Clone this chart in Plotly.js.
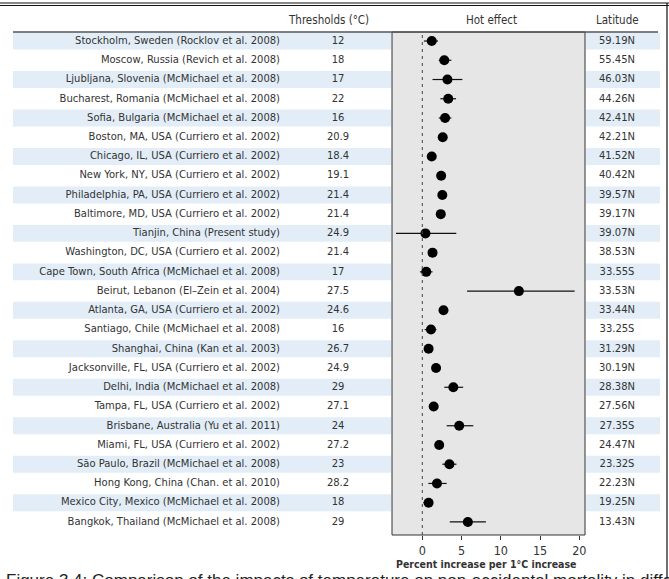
<!DOCTYPE html>
<html>
<head>
<meta charset="utf-8">
<script src="https://cdn.plot.ly/plotly-3.0.1.min.js"></script>
<style>html,body{margin:0;padding:0;background:#fff;}#chart{width:669px;height:579px;}</style>
</head>
<body>
<div id="chart"></div>
<script>
const cities = [
  "Stockholm, Sweden (Rocklov et al. 2008)",
  "Moscow, Russia (Revich et al. 2008)",
  "Ljubljana, Slovenia (McMichael et al. 2008)",
  "Bucharest, Romania (McMichael et al. 2008)",
  "Sofia, Bulgaria (McMichael et al. 2008)",
  "Boston, MA, USA (Curriero et al. 2002)",
  "Chicago, IL, USA (Curriero et al. 2002)",
  "New York, NY, USA (Curriero et al. 2002)",
  "Philadelphia, PA, USA (Curriero et al. 2002)",
  "Baltimore, MD, USA (Curriero et al. 2002)",
  "Tianjin, China (Present study)",
  "Washington, DC, USA (Curriero et al. 2002)",
  "Cape Town, South Africa (McMichael et al. 2008)",
  "Beirut, Lebanon (El\u2013Zein et al. 2004)",
  "Atlanta, GA, USA (Curriero et al. 2002)",
  "Santiago, Chile (McMichael et al. 2008)",
  "Shanghai, China (Kan et al. 2003)",
  "Jacksonville, FL, USA (Curriero et al. 2002)",
  "Delhi, India (McMichael et al. 2008)",
  "Tampa, FL, USA (Curriero et al. 2002)",
  "Brisbane, Australia (Yu et al. 2011)",
  "Miami, FL, USA (Curriero et al. 2002)",
  "S\u00e3o Paulo, Brazil (McMichael et al. 2008)",
  "Hong Kong, China (Chan. et al. 2010)",
  "Mexico City, Mexico (McMichael et al. 2008)",
  "Bangkok, Thailand (McMichael et al. 2008)"
];
const thresholds = ["12","18","17","22","16","20.9","18.4","19.1","21.4","21.4","24.9","21.4","17","27.5","24.6","16","26.7","24.9","29","27.1","24","27.2","23","28.2","18","29"];
const latitudes = ["59.19N","55.45N","46.03N","44.26N","42.41N","42.21N","41.52N","40.42N","39.57N","39.17N","39.07N","38.53N","33.55S","33.53N","33.44N","33.25S","31.29N","30.19N","28.38N","27.56N","27.35S","24.47N","23.32S","22.23N","19.25N","13.43N"];
const effect = [1.2,2.8,3.2,3.3,2.9,2.6,1.2,2.4,2.55,2.35,0.4,1.3,0.5,12.3,2.7,1.1,0.8,1.75,3.95,1.45,4.7,2.15,3.45,1.87,0.8,5.8];
const ciLow  = [0.2,2.1,1.3,2.3,2.1,2.3,1.0,2.2,2.3,2.1,-3.35,1.0,-0.3,5.7,2.4,0.3,0.5,1.5,2.8,1.2,3.1,1.9,2.55,0.77,0.13,3.5];
const ciHigh = [2.0,3.7,5.1,4.3,3.7,2.9,1.4,2.6,2.8,2.6,4.33,1.6,1.3,19.4,3.0,1.8,1.1,2.0,5.2,1.7,6.5,2.4,4.35,3.1,1.3,8.1];
const xTicks = [0,5,10,15,20];
const headers = ["Thresholds (\u00b0C)", "Hot effect", "Latitude"];
const xTitle = "Percent increase per 1\u00b0C increase";
const caption = "Figure 3.4: Comparison of the impacts of temperature on non-accidental mortality in different cities";

const W = 669, H = 579, T = 32, B = 535;
const FONT = "DejaVu Sans Condensed, Liberation Sans Narrow, sans-serif";
const py = p => (B - p) / (B - T);   // pixel row -> paper y
const txt = '#333333';
const FS = 11.1;

const shapes = [];
// row stripes
cities.forEach((c, i) => {
  if (i % 2 === 0) {
    shapes.push({type:'rect', xref:'x2', yref:'y', x0:13, x1:391, y0:i-0.44, y1:i+0.44, fillcolor:'#e2edf7', line:{width:0}, layer:'below'});
    shapes.push({type:'rect', xref:'x2', yref:'y', x0:586, x1:660, y0:i-0.44, y1:i+0.44, fillcolor:'#e2edf7', line:{width:0}, layer:'below'});
  }
});
// panel
shapes.push({type:'rect', xref:'x domain', yref:'y domain', x0:0, x1:1, y0:0, y1:1, fillcolor:'#e6e6e6', line:{color:'#333', width:1}, layer:'below'});
// zero line
shapes.push({type:'line', xref:'x', yref:'y domain', x0:0, x1:0, y0:0, y1:1, line:{color:'#444', width:1, dash:'3px,4px'}});
// header rule
shapes.push({type:'line', xref:'x2', yref:'paper', x0:13, x1:658, y0:1, y1:1, line:{color:'#555', width:1.5}});
// outer frame
shapes.push({type:'line', xref:'x2', yref:'paper', x0:0, x1:669, y0:py(3), y1:py(3), line:{color:'#111', width:1.2}});
shapes.push({type:'line', xref:'x2', yref:'paper', x0:0, x1:669, y0:py(5.5), y1:py(5.5), line:{color:'#111', width:1.2}});
shapes.push({type:'line', xref:'x2', yref:'paper', x0:667, x1:667, y0:py(3), y1:py(579), line:{color:'#111', width:1.2}});

const annotations = [
  {text:headers[0], xref:'x2', yref:'paper', x:328, y:py(20), xanchor:'center', yanchor:'middle', showarrow:false, font:{family:FONT, size:11.5, color:txt}},
  {text:headers[1], xref:'x2', yref:'paper', x:491, y:py(20), xanchor:'center', yanchor:'middle', showarrow:false, font:{family:FONT, size:11.5, color:txt}},
  {text:headers[2], xref:'x2', yref:'paper', x:617, y:py(20), xanchor:'center', yanchor:'middle', showarrow:false, font:{family:FONT, size:11.5, color:txt}},
  {text:'<b>'+xTitle+'</b>', xref:'x2', yref:'paper', x:486, y:py(564), xanchor:'center', yanchor:'middle', showarrow:false, font:{family:FONT, size:10.5, color:txt}},
  {text:caption, xref:'x2', yref:'paper', x:4, xanchor:'left', y:py(569), yanchor:'top', showarrow:false, font:{family:'Liberation Sans, Arial, sans-serif', size:17, color:'#222'}}
];

const traces = [
  {type:'scatter', mode:'text', xaxis:'x2', yaxis:'y', x:cities.map(()=>280), y:cities, text:cities, textposition:'middle left', textfont:{family:FONT, size:FS, color:txt}, cliponaxis:false, hoverinfo:'skip'},
  {type:'scatter', mode:'text', xaxis:'x2', yaxis:'y', x:cities.map(()=>338), y:cities, text:thresholds, textposition:'middle center', textfont:{family:FONT, size:FS, color:txt}, cliponaxis:false, hoverinfo:'skip'},
  {type:'scatter', mode:'text', xaxis:'x2', yaxis:'y', x:cities.map(()=>617), y:cities, text:latitudes, textposition:'middle center', textfont:{family:FONT, size:FS, color:txt}, cliponaxis:false, hoverinfo:'skip'},
  {type:'scatter', mode:'markers', xaxis:'x', yaxis:'y', x:effect, y:cities,
   marker:{symbol:'circle', size:10, color:'#000'},
   error_x:{type:'data', symmetric:false, array:effect.map((e,i)=>ciHigh[i]-e), arrayminus:effect.map((e,i)=>e-ciLow[i]), width:0, thickness:1.2, color:'#111'},
   cliponaxis:false}
];

const layout = {
  width:W, height:H,
  margin:{l:0, r:0, t:T, b:H-B, pad:0},
  paper_bgcolor:'#fff', plot_bgcolor:'rgba(0,0,0,0)',
  showlegend:false, hovermode:false,
  xaxis:{domain:[392/W, 585/W], range:[-3.86, 20.72], anchor:'y', tickvals:xTicks, ticks:'outside', ticklen:4, tickcolor:'#333', tickwidth:1,
         showgrid:false, zeroline:false, showline:false, tickfont:{family:FONT, size:12.5, color:txt}},
  xaxis2:{domain:[0,1], range:[0, W], anchor:'y', visible:false, fixedrange:true},
  yaxis:{domain:[0,1], type:'category', categoryarray:cities, range:[25.68, -0.47], anchor:'x', visible:false},
  shapes:shapes, annotations:annotations
};

Plotly.newPlot('chart', traces, layout, {staticPlot:true, displayModeBar:false});
</script>
</body>
</html>
